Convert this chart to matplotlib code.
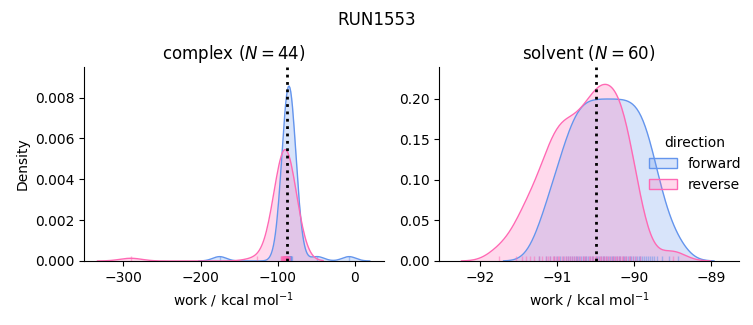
import numpy as np
import matplotlib
matplotlib.use("Agg")
import matplotlib.pyplot as plt
import matplotlib.patches as mpatches
import seaborn as sns

# work values (kcal/mol)
complex_forward = [
    -89.6, -88.9, -88.4, -88.0, -87.7, -87.4, -87.1, -86.9, -86.7, -86.5,
    -86.3, -86.1, -85.9, -85.8, -85.6, -85.5, -85.3, -85.2, -85.0, -84.9,
    -84.7, -84.6, -84.4, -84.3, -84.1, -83.9, -83.7, -83.5, -83.3, -83.0,
    -82.7, -82.3, -81.8, -85.4, -86.0, -84.8, -85.1, -86.2, -84.5, -85.7,
    -83.8, -175.3, -48.6, -7.4]
complex_reverse = [
    -96.1, -95.3, -94.8, -94.2, -93.8, -93.4, -93.1, -92.8, -92.5, -92.2,
    -92.0, -91.7, -91.5, -91.3, -91.1, -90.9, -90.7, -90.5, -90.3, -90.1,
    -89.9, -89.7, -89.5, -89.3, -89.1, -88.9, -88.7, -88.4, -88.1, -87.8,
    -87.5, -87.1, -86.7, -86.3, -85.9, -85.4, -84.9, -84.3, -90.6, -91.4,
    -92.3, -89.2, -127.1, -290.4]
solvent_forward = [
    -91.23, -91.15, -91.09, -91.04, -91.00, -90.96, -90.92, -90.89, -90.86, -90.83,
    -90.81, -90.78, -90.76, -90.74, -90.71, -90.69, -90.67, -90.64, -90.62, -90.60,
    -90.57, -90.55, -90.53, -90.50, -90.48, -90.46, -90.43, -90.41, -90.39, -90.36,
    -90.34, -90.32, -90.29, -90.27, -90.25, -90.22, -90.20, -90.18, -90.15, -90.13,
    -90.11, -90.08, -90.06, -90.04, -90.01, -89.99, -89.97, -89.94, -89.92, -89.90,
    -89.87, -89.85, -89.82, -89.80, -89.77, -89.74, -89.71, -89.64, -89.55, -89.43]
solvent_reverse = [
    -91.75, -91.54, -91.46, -91.40, -91.35, -91.30, -91.24, -91.19, -91.15, -91.12,
    -91.09, -91.06, -91.04, -91.01, -90.99, -90.97, -90.94, -90.91, -90.89, -90.86,
    -90.83, -90.81, -90.78, -90.75, -90.73, -90.70, -90.67, -90.65, -90.62, -90.59,
    -90.57, -90.55, -90.53, -90.51, -90.49, -90.47, -90.45, -90.43, -90.41, -90.39,
    -90.37, -90.35, -90.33, -90.30, -90.28, -90.26, -90.24, -90.22, -90.20, -90.18,
    -90.16, -90.14, -90.12, -90.10, -90.07, -90.05, -90.02, -89.98, -89.92, -89.50]

estimates = {"complex": -88.5, "solvent": -90.49}
directions = ["forward", "reverse"]
colors = {"forward": "#6495ED", "reverse": "#FF69B4"}
norm_scale = {"complex": 0.21, "solvent": 0.28}
bw_adjust = {"complex": 1.0, "solvent": 0.8}


def kde(values, adjust=1.0, gridsize=200, cut=3):
    x = np.asarray(values)
    bw = adjust * x.std(ddof=1) * len(x) ** (-1 / 5)
    grid = np.linspace(x.min() - cut * bw, x.max() + cut * bw, gridsize)
    z = (grid[:, None] - x[None, :]) / bw
    dens = np.exp(-0.5 * z ** 2).sum(axis=1) / (len(x) * bw * np.sqrt(2 * np.pi))
    return grid, dens


fig, axes = plt.subplots(1, 2, figsize=(7.53, 3.25), dpi=100)
fig.subplots_adjust(left=0.1116, right=0.9814, bottom=0.197, top=0.794, wspace=0.185)

panels = [("complex", complex_forward, complex_reverse),
          ("solvent", solvent_forward, solvent_reverse)]

for ax, (phase, fwd, rev) in zip(axes, panels):
    for d, vals in zip(directions, [fwd, rev]):
        grid, dens = kde(vals, bw_adjust[phase])
        dens = dens * norm_scale[phase]
        ax.fill_between(grid, dens, color=colors[d], alpha=0.25, lw=0)
        ax.plot(grid, dens, color=colors[d], lw=1)
        sns.rugplot(x=vals, ax=ax, color=colors[d], alpha=0.5, lw=1, height=0.025)
    ax.axvline(estimates[phase], color="black", ls=":", lw=2)
    ax.set_title(f"{phase} ($N={len(fwd)}$)", fontsize=12)
    ax.set_xlabel("work / kcal mol$^{-1}$")
    sns.despine(ax=ax)

axes[0].set_ylabel("Density")
axes[0].set_xlim(-351, 37.6)
axes[0].set_ylim(0, 0.0095)
axes[0].set_yticks([0, 0.002, 0.004, 0.006, 0.008])
axes[1].set_xlim(-92.53, -88.64)
axes[1].set_ylim(0, 0.2395)
axes[1].set_xticks([-92, -91, -90, -89])

handles = [mpatches.Patch(facecolor=matplotlib.colors.to_rgba(colors[d], 0.25),
                          edgecolor=colors[d], label=d) for d in directions]
axes[1].legend(handles=handles, title="direction", loc="center right",
               frameon=False, bbox_to_anchor=(1.05, 0.5))

fig.suptitle("RUN1553", fontsize=12, y=0.965)
fig.savefig("out.png", dpi=100)
